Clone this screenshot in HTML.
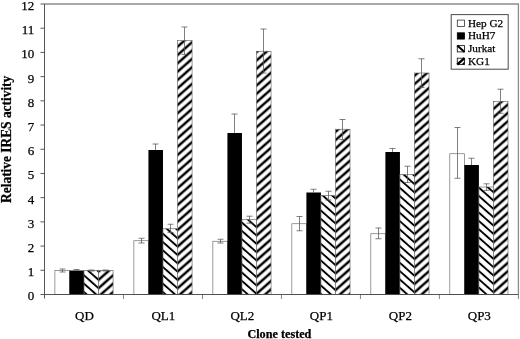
<!DOCTYPE html>
<html><head><meta charset="utf-8"><title>Relative IRES activity</title>
<style>
html,body{margin:0;padding:0;background:#fff;}
body{width:520px;height:339px;overflow:hidden;}
svg{display:block;}
text{font-family:"Liberation Serif","Times New Roman",serif;fill:#000;stroke:#000;stroke-width:0.25px;}
</style></head><body>
<svg width="520" height="339" viewBox="0 0 520 339">
<defs>
<pattern id="pk" patternUnits="userSpaceOnUse" width="30" height="6.239" patternTransform="rotate(-41.5)"><rect x="0" y="0" width="30" height="6.239" fill="#fff"/><rect x="0" y="0" width="30" height="1.225" fill="#000"/><rect x="0" y="5.014" width="30" height="1.235" fill="#000"/></pattern>
<pattern id="pj" patternUnits="userSpaceOnUse" width="30" height="6.239" patternTransform="rotate(41.5)"><rect x="0" y="0" width="30" height="6.239" fill="#fff"/><rect x="0" y="0" width="30" height="0.950" fill="#000"/><rect x="0" y="5.289" width="30" height="0.960" fill="#000"/></pattern>
</defs>
<rect width="520" height="339" fill="#fff"/>
<path d="M44.5 4.0H518.4V294.5" fill="none" stroke="#8c8c8c" stroke-width="1.3"/>
<rect x="54.89" y="270.5" width="14.55" height="24.00" fill="#fff" stroke="#666" stroke-width="0.65"/>
<rect x="69.44" y="270.5" width="14.55" height="24.00" fill="#000"/>
<g transform="translate(98.54 288.20)"><rect x="-14.55" y="-17.70" width="14.55" height="24.00" fill="url(#pj)" stroke="#666" stroke-width="0.65"/><rect x="0" y="-17.70" width="14.55" height="24.00" fill="url(#pk)" stroke="#666" stroke-width="0.65"/></g>
<path d="M62.5 269V272M59.5 269H65.5M59.5 272H65.5" fill="none" stroke="#555" stroke-width="0.75"/>
<path d="M76.5 269.5V270.5M73.5 269.5H79.5" fill="none" stroke="#555" stroke-width="0.75"/>
<path d="M91.5 270V271M88.5 270H94.5M88.5 271H94.5" fill="none" stroke="#555" stroke-width="0.75"/>
<path d="M105.5 270V271M102.5 270H108.5M102.5 271H108.5" fill="none" stroke="#555" stroke-width="0.75"/>
<rect x="133.88" y="240.75" width="14.55" height="53.75" fill="#fff" stroke="#666" stroke-width="0.65"/>
<rect x="148.43" y="150" width="14.55" height="144.50" fill="#000"/>
<g transform="translate(177.53 288.30)"><rect x="-14.55" y="-59.55" width="14.55" height="65.75" fill="url(#pj)" stroke="#666" stroke-width="0.65"/><rect x="0" y="-247.90" width="14.55" height="254.10" fill="url(#pk)" stroke="#666" stroke-width="0.65"/></g>
<path d="M141.5 238.25V243M138.5 238.25H144.5M138.5 243H144.5" fill="none" stroke="#555" stroke-width="0.75"/>
<path d="M155.5 144V150M152.5 144H158.5" fill="none" stroke="#555" stroke-width="0.75"/>
<path d="M170.5 224.25V232.5M167.5 224.25H173.5M167.5 232.5H173.5" fill="none" stroke="#555" stroke-width="0.75"/>
<path d="M184.5 27V54.4M181.5 27H187.5M181.5 54.4H187.5" fill="none" stroke="#555" stroke-width="0.75"/>
<rect x="212.86" y="241.25" width="14.55" height="53.25" fill="#fff" stroke="#666" stroke-width="0.65"/>
<rect x="227.41" y="133" width="14.55" height="161.50" fill="#000"/>
<g transform="translate(256.51 293.80)"><rect x="-14.55" y="-74.30" width="14.55" height="75.00" fill="url(#pj)" stroke="#666" stroke-width="0.65"/><rect x="0" y="-242.55" width="14.55" height="243.25" fill="url(#pk)" stroke="#666" stroke-width="0.65"/></g>
<path d="M220.5 239.25V243M217.5 239.25H223.5M217.5 243H223.5" fill="none" stroke="#555" stroke-width="0.75"/>
<path d="M234.5 114V133M231.5 114H237.5" fill="none" stroke="#555" stroke-width="0.75"/>
<path d="M249.5 216.2V223.2M246.5 216.2H252.5M246.5 223.2H252.5" fill="none" stroke="#555" stroke-width="0.75"/>
<path d="M263.5 29V73M260.5 29H266.5M260.5 73H266.5" fill="none" stroke="#555" stroke-width="0.75"/>
<rect x="291.84" y="223.75" width="14.55" height="70.75" fill="#fff" stroke="#666" stroke-width="0.65"/>
<rect x="306.39" y="192.5" width="14.55" height="102.00" fill="#000"/>
<g transform="translate(335.49 290.10)"><rect x="-14.55" y="-94.60" width="14.55" height="99.00" fill="url(#pj)" stroke="#666" stroke-width="0.65"/><rect x="0" y="-160.85" width="14.55" height="165.25" fill="url(#pk)" stroke="#666" stroke-width="0.65"/></g>
<path d="M299.5 216.5V230.75M296.5 216.5H302.5M296.5 230.75H302.5" fill="none" stroke="#555" stroke-width="0.75"/>
<path d="M313.5 189.25V192.5M310.5 189.25H316.5" fill="none" stroke="#555" stroke-width="0.75"/>
<path d="M328.5 191.25V200M325.5 191.25H331.5M325.5 200H331.5" fill="none" stroke="#555" stroke-width="0.75"/>
<path d="M342.5 119.5V139.5M339.5 119.5H345.5M339.5 139.5H345.5" fill="none" stroke="#555" stroke-width="0.75"/>
<rect x="370.82" y="233.75" width="14.55" height="60.75" fill="#fff" stroke="#666" stroke-width="0.65"/>
<rect x="385.38" y="152" width="14.55" height="142.50" fill="#000"/>
<g transform="translate(414.48 292.40)"><rect x="-14.55" y="-117.90" width="14.55" height="120.00" fill="url(#pj)" stroke="#666" stroke-width="0.65"/><rect x="0" y="-219.40" width="14.55" height="221.50" fill="url(#pk)" stroke="#666" stroke-width="0.65"/></g>
<path d="M378.5 228V238.75M375.5 228H381.5M375.5 238.75H381.5" fill="none" stroke="#555" stroke-width="0.75"/>
<path d="M392.5 148.5V152M389.5 148.5H395.5" fill="none" stroke="#555" stroke-width="0.75"/>
<path d="M407.5 166.25V182.5M404.5 166.25H410.5M404.5 182.5H410.5" fill="none" stroke="#555" stroke-width="0.75"/>
<path d="M421.5 58.75V87.5M418.5 58.75H424.5M418.5 87.5H424.5" fill="none" stroke="#555" stroke-width="0.75"/>
<rect x="449.81" y="153.75" width="14.55" height="140.75" fill="#fff" stroke="#666" stroke-width="0.65"/>
<rect x="464.36" y="165" width="14.55" height="129.50" fill="#000"/>
<g transform="translate(493.46 292.20)"><rect x="-14.55" y="-105.20" width="14.55" height="107.50" fill="url(#pj)" stroke="#666" stroke-width="0.65"/><rect x="0" y="-190.90" width="14.55" height="193.20" fill="url(#pk)" stroke="#666" stroke-width="0.65"/></g>
<path d="M457.5 127.5V178.25M454.5 127.5H460.5M454.5 178.25H460.5" fill="none" stroke="#555" stroke-width="0.75"/>
<path d="M471.5 158.25V165M468.5 158.25H474.5" fill="none" stroke="#555" stroke-width="0.75"/>
<path d="M486.5 183.8V190.4M483.5 183.8H489.5M483.5 190.4H489.5" fill="none" stroke="#555" stroke-width="0.75"/>
<path d="M500.5 89.2V113.3M497.5 89.2H503.5M497.5 113.3H503.5" fill="none" stroke="#555" stroke-width="0.75"/>
<path d="M123.48 294.5V299.0M202.47 294.5V299.0M281.45 294.5V299.0M360.43 294.5V299.0M439.42 294.5V299.0M518.40 294.5V299.0" fill="none" stroke="#777" stroke-width="0.9"/>
<path d="M44.5 4.0V298.5M40.5 294.5H518.4M40.5 270.29H44.5M40.5 246.08H44.5M40.5 221.88H44.5M40.5 197.67H44.5M40.5 173.46H44.5M40.5 149.25H44.5M40.5 125.04H44.5M40.5 100.83H44.5M40.5 76.62H44.5M40.5 52.42H44.5M40.5 28.21H44.5M40.5 4.00H44.5" fill="none" stroke="#444" stroke-width="0.9"/>
<text x="34.3" y="300.40" font-size="13" text-anchor="end">0</text>
<text x="34.3" y="276.19" font-size="13" text-anchor="end">1</text>
<text x="34.3" y="251.98" font-size="13" text-anchor="end">2</text>
<text x="34.3" y="227.78" font-size="13" text-anchor="end">3</text>
<text x="34.3" y="203.57" font-size="13" text-anchor="end">4</text>
<text x="34.3" y="179.36" font-size="13" text-anchor="end">5</text>
<text x="34.3" y="155.15" font-size="13" text-anchor="end">6</text>
<text x="34.3" y="130.94" font-size="13" text-anchor="end">7</text>
<text x="34.3" y="106.73" font-size="13" text-anchor="end">8</text>
<text x="34.3" y="82.53" font-size="13" text-anchor="end">9</text>
<text x="34.3" y="58.32" font-size="13" text-anchor="end">10</text>
<text x="34.3" y="34.11" font-size="13" text-anchor="end">11</text>
<text x="34.3" y="9.90" font-size="13" text-anchor="end">12</text>
<text transform="translate(84.39 320.4) scale(1 1)" font-size="13" text-anchor="middle">QD</text>
<text transform="translate(163.38 320.4) scale(1 1)" font-size="13" text-anchor="middle">QL1</text>
<text transform="translate(242.36 320.4) scale(1 1)" font-size="13" text-anchor="middle">QL2</text>
<text transform="translate(321.34 320.4) scale(1 1)" font-size="13" text-anchor="middle">QP1</text>
<text transform="translate(400.32 320.4) scale(1 1)" font-size="13" text-anchor="middle">QP2</text>
<text transform="translate(479.31 320.4) scale(1 1)" font-size="13" text-anchor="middle">QP3</text>
<text x="279.4" y="337.6" font-size="12.2" font-weight="bold" text-anchor="middle">Clone tested</text>
<text transform="translate(10.8 139.3) rotate(-90) scale(1 1.04)" font-size="13.4" font-weight="bold" text-anchor="middle">Relative IRES activity</text>
<rect x="451.2" y="14.6" width="57" height="54.6" fill="#fff" stroke="#4a4a4a" stroke-width="1"/>
<rect x="457.3" y="20.10" width="7.2" height="6.3" fill="#fff" stroke="#333" stroke-width="0.8"/>
<text x="468" y="26.5" font-size="11.2">Hep G2</text>
<rect x="457.3" y="32.80" width="7.2" height="6.3" fill="#000" stroke="#000" stroke-width="0.8"/>
<text x="468" y="39.2" font-size="11.2">HuH7</text>
<rect x="457.3" y="45.60" width="7.2" height="6.3" fill="#fff" stroke="#222" stroke-width="0.9"/>
<path d="M457.3 45.60L464.5 51.90" stroke="#000" stroke-width="2" fill="none"/>
<text x="468" y="52" font-size="11.2">Jurkat</text>
<rect x="457.3" y="58.20" width="7.2" height="6.3" fill="#fff" stroke="#222" stroke-width="0.9"/>
<path d="M457.3 64.50L464.5 58.20" stroke="#000" stroke-width="2.4" fill="none"/>
<path d="M464.5 64.50h-3l3 -3z" fill="#000"/>
<text x="468" y="64.6" font-size="11.2">KG1</text>
</svg></body></html>
